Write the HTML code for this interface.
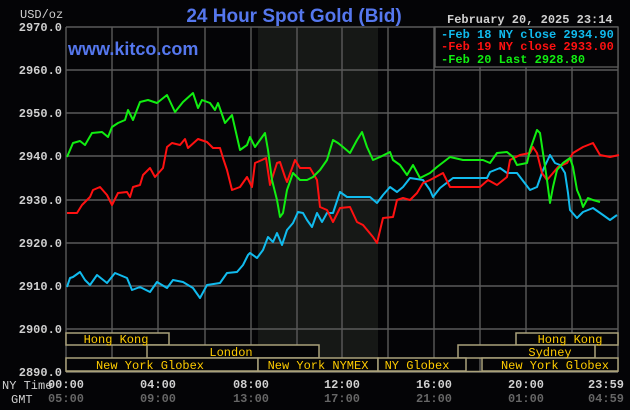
<!DOCTYPE html>
<html><head><meta charset="utf-8"><style>
html,body{margin:0;padding:0;background:#040406;}
svg{display:block}
</style></head><body>
<svg width="630" height="410" viewBox="0 0 630 410" xmlns="http://www.w3.org/2000/svg">
<rect width="630" height="410" fill="#040406"/>
<rect x="258" y="27" width="120" height="345" fill="#161816"/>
<g stroke="#5a5a5a" stroke-width="1.4" fill="none">
<path d="M66 27H618M66 70H618M66 113H618M66 156H618M66 200H618M66 243H618M66 286H618M66 329H618M66 372H618"/>
<path d="M66 27V372M112 27V372M158 27V372M205 27V372M251 27V372M297 27V372M342 27V372M388 27V372M434 27V372M480 27V372M526 27V372M572 27V372M618 27V372"/>
</g>
<g font-family="Liberation Mono, monospace" font-size="12" font-weight="bold" fill="#d0d0d0" text-anchor="end">
<text x="62" y="31">2970.0</text><text x="62" y="74">2960.0</text><text x="62" y="117">2950.0</text>
<text x="62" y="160">2940.0</text><text x="62" y="204">2930.0</text><text x="62" y="247">2920.0</text>
<text x="62" y="290">2910.0</text><text x="62" y="333">2900.0</text><text x="62" y="376">2890.0</text>
</g>
<text x="20" y="18" font-family="Liberation Mono, monospace" font-size="12" fill="#d0d0d0">USD/oz</text>
<text x="294" y="22" text-anchor="middle" font-family="Liberation Sans, sans-serif" font-size="19" font-weight="bold" fill="#5577ee">24 Hour Spot Gold (Bid)</text>
<text x="68" y="55" font-family="Liberation Sans, sans-serif" font-size="18" font-weight="bold" fill="#5577ee">www.kitco.com</text>
<text x="447" y="23" font-family="Liberation Mono, monospace" font-size="12" font-weight="bold" fill="#d0d0d0">February 20, 2025 23:14</text>
<rect x="435" y="27" width="183" height="40" fill="#040406" stroke="#5a5a5a" stroke-width="1.4"/>
<g font-family="Liberation Mono, monospace" font-size="12" font-weight="bold">
<text x="441" y="38" fill="#11bbee">-Feb 18 NY close 2934.90</text>
<text x="441" y="50" fill="#ff1111">-Feb 19 NY close 2933.00</text>
<text x="441" y="63" fill="#11ee11">-Feb 20 Last 2928.80</text>
</g>
<g fill="none" stroke-width="2" stroke-linejoin="round">
<polyline stroke="#11bbee" points="67,287 70,278 73,277 80,272 85,280 90,285 97,275 107,283 115,273 127,278 132,290 140,287 150,292 157,282 167,288 173,280 183,282 193,288 200,298 207,285 220,283 227,273 237,272 243,265 248,255 250,253 257,258 263,250 268,237 273,242 277,233 282,245 287,230 293,223 298,212 303,213 307,220 312,227 317,213 322,222 327,213 333,213 340,192 347,197 360,197 370,197 377,203 383,195 390,187 397,192 403,187 410,178 423,180 430,190 433,197 440,188 453,178 487,178 490,172 500,168 507,173 517,173 530,190 537,187 543,170 550,155 555,163 560,165 565,173 568,193 570,210 577,218 583,212 593,208 603,215 610,220 617,215"/>
<polyline stroke="#ff1111" points="67,213 77,213 82,205 90,197 93,190 100,187 107,195 112,205 118,193 127,192 130,197 133,187 140,185 143,175 150,168 155,177 163,168 167,147 172,143 180,145 185,139 188,148 198,139 207,142 213,148 220,148 223,158 227,170 232,190 240,187 247,177 252,187 255,163 262,160 266,158 270,185 277,163 280,162 285,177 287,182 295,160 300,168 310,168 317,180 320,207 327,210 333,222 340,208 350,207 357,222 363,225 373,237 377,243 383,218 393,217 397,200 403,198 410,200 417,193 423,183 430,180 443,173 450,187 480,187 488,180 497,185 507,177 510,160 520,155 530,153 533,147 537,153 542,173 547,180 553,173 558,167 567,163 573,153 583,147 593,143 600,155 610,157 619,155"/>
<polyline stroke="#11ee11" points="67,157 73,143 80,141 85,145 92,133 102,132 108,137 112,127 118,123 125,120 128,110 133,120 140,102 148,100 157,103 167,95 175,112 183,102 193,93 198,108 202,100 210,103 215,110 218,103 225,123 232,115 240,150 247,145 250,137 255,147 260,140 265,133 268,150 272,180 277,200 280,217 283,213 287,190 293,173 300,180 307,180 313,177 320,170 327,160 333,140 338,143 343,147 350,153 357,140 362,132 367,147 373,160 380,157 390,152 393,160 400,165 407,175 413,165 420,178 430,173 437,167 450,157 463,160 483,160 490,163 497,153 507,152 513,157 517,165 527,163 530,150 537,130 540,133 543,153 547,180 550,203 553,187 557,170 563,163 570,158 573,167 577,190 580,197 583,207 588,198 593,200 600,202"/>
</g>
<g stroke="#aaa17a" stroke-width="1.5" fill="#040406">
<rect x="66" y="333" width="103" height="12"/>
<rect x="516" y="333" width="102" height="12"/>
<rect x="147" y="345" width="172" height="13"/>
<rect x="458" y="345" width="137" height="13"/>
<rect x="66" y="358" width="192" height="13"/>
<rect x="258" y="358" width="120" height="13"/>
<rect x="378" y="358" width="88" height="13"/>
<rect x="482" y="358" width="136" height="13"/>
</g>
<path d="M66 371.5H618" stroke="#aaa17a" stroke-width="1.5"/>
<g font-family="Liberation Mono, monospace" font-size="12" fill="#ffcc00" text-anchor="middle">
<text x="116" y="343">Hong Kong</text><text x="570" y="343">Hong Kong</text>
<text x="231" y="356">London</text><text x="550" y="356">Sydney</text>
<text x="150" y="369">New York Globex</text><text x="318" y="369">New York NYMEX</text>
<text x="417" y="369">NY Globex</text><text x="555" y="369">New York Globex</text>
</g>
<g font-family="Liberation Mono, monospace" font-size="12" fill="#d0d0d0">
<text x="2" y="389">NY Time</text><text x="11" y="403">GMT</text>
</g>
<g font-family="Liberation Mono, monospace" font-size="12" font-weight="bold" fill="#d0d0d0" text-anchor="middle">
<text x="66" y="388">00:00</text><text x="158" y="388">04:00</text><text x="251" y="388">08:00</text>
<text x="342" y="388">12:00</text><text x="434" y="388">16:00</text><text x="526" y="388">20:00</text>
<text x="606" y="388">23:59</text>
</g>
<g font-family="Liberation Mono, monospace" font-size="12" font-weight="bold" fill="#666" text-anchor="middle">
<text x="66" y="402">05:00</text><text x="158" y="402">09:00</text><text x="251" y="402">13:00</text>
<text x="342" y="402">17:00</text><text x="434" y="402">21:00</text><text x="526" y="402">01:00</text>
<text x="606" y="402">04:59</text>
</g>
</svg>
</body></html>
